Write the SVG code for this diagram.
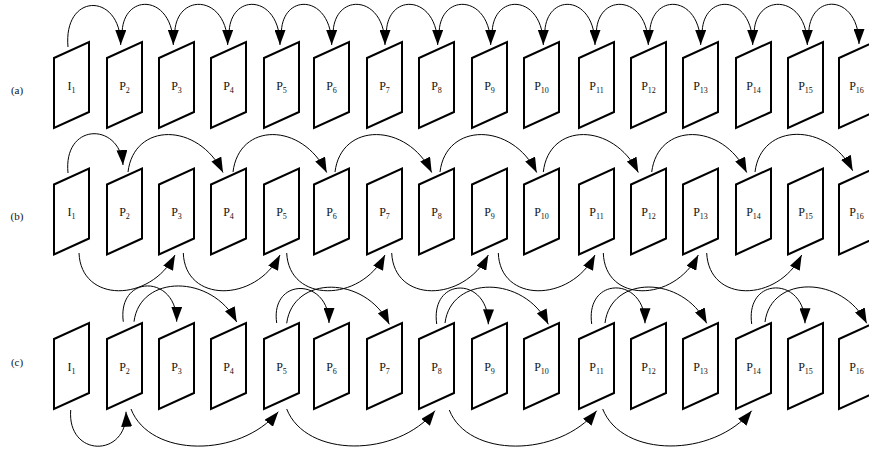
<svg xmlns="http://www.w3.org/2000/svg" width="869" height="452" viewBox="0 0 869 452">
<style>
.fr{fill:#fff;stroke:#000;stroke-width:2;stroke-linejoin:miter}
.lb{font-family:"Liberation Serif","Times New Roman",serif;font-size:12px;fill:#111;text-anchor:middle}
.sb{font-size:8px}
.rl{font-family:"Liberation Serif","Times New Roman",serif;font-size:11px;fill:#111;text-anchor:middle}
.ar{fill:none;stroke:#000;stroke-width:1;marker-end:url(#ah)}
</style>
<defs>
<marker id="ah" viewBox="0 0 15 11" refX="15" refY="5.5" markerWidth="15" markerHeight="11" markerUnits="userSpaceOnUse" orient="auto">
<path d="M0,0 L15,5.5 L0,11 z" fill="#000"/>
</marker>
<polygon id="pg" points="0,-27 35,-43 35,27 0,43"/>
</defs>
<rect width="869" height="452" fill="#fff"/>
<text class="rl" x="17" y="94">(a)</text>
<text class="rl" x="17" y="220">(b)</text>
<text class="rl" x="17" y="366">(c)</text>

<g id="row-a">
<g id="a1"><use href="#pg" class="fr" x="54" y="85"/><text class="lb" x="71.5" y="89.5">I<tspan class="sb" dy="3">1</tspan></text></g>
<g id="a2"><use href="#pg" class="fr" x="107" y="85"/><text class="lb" x="124.5" y="89.5">P<tspan class="sb" dy="3">2</tspan></text></g>
<g id="a3"><use href="#pg" class="fr" x="159" y="85"/><text class="lb" x="176.5" y="89.5">P<tspan class="sb" dy="3">3</tspan></text></g>
<g id="a4"><use href="#pg" class="fr" x="211" y="85"/><text class="lb" x="228.5" y="89.5">P<tspan class="sb" dy="3">4</tspan></text></g>
<g id="a5"><use href="#pg" class="fr" x="264" y="85"/><text class="lb" x="281.5" y="89.5">P<tspan class="sb" dy="3">5</tspan></text></g>
<g id="a6"><use href="#pg" class="fr" x="314" y="85"/><text class="lb" x="331.5" y="89.5">P<tspan class="sb" dy="3">6</tspan></text></g>
<g id="a7"><use href="#pg" class="fr" x="367" y="85"/><text class="lb" x="384.5" y="89.5">P<tspan class="sb" dy="3">7</tspan></text></g>
<g id="a8"><use href="#pg" class="fr" x="419" y="85"/><text class="lb" x="436.5" y="89.5">P<tspan class="sb" dy="3">8</tspan></text></g>
<g id="a9"><use href="#pg" class="fr" x="472" y="85"/><text class="lb" x="489.5" y="89.5">P<tspan class="sb" dy="3">9</tspan></text></g>
<g id="a10"><use href="#pg" class="fr" x="524" y="85"/><text class="lb" x="541.5" y="89.5">P<tspan class="sb" dy="3">10</tspan></text></g>
<g id="a11"><use href="#pg" class="fr" x="579" y="85"/><text class="lb" x="596.5" y="89.5">P<tspan class="sb" dy="3">11</tspan></text></g>
<g id="a12"><use href="#pg" class="fr" x="631" y="85"/><text class="lb" x="648.5" y="89.5">P<tspan class="sb" dy="3">12</tspan></text></g>
<g id="a13"><use href="#pg" class="fr" x="683" y="85"/><text class="lb" x="700.5" y="89.5">P<tspan class="sb" dy="3">13</tspan></text></g>
<g id="a14"><use href="#pg" class="fr" x="736" y="85"/><text class="lb" x="753.5" y="89.5">P<tspan class="sb" dy="3">14</tspan></text></g>
<g id="a15"><use href="#pg" class="fr" x="788" y="85"/><text class="lb" x="805.5" y="89.5">P<tspan class="sb" dy="3">15</tspan></text></g>
<g id="a16"><use href="#pg" class="fr" x="839" y="85"/><text class="lb" x="856.5" y="89.5">P<tspan class="sb" dy="3">16</tspan></text></g>
</g>

<g id="row-b">
<g id="b1"><use href="#pg" class="fr" x="54" y="211.5"/><text class="lb" x="71.5" y="216">I<tspan class="sb" dy="3">1</tspan></text></g>
<g id="b2"><use href="#pg" class="fr" x="107" y="211.5"/><text class="lb" x="124.5" y="216">P<tspan class="sb" dy="3">2</tspan></text></g>
<g id="b3"><use href="#pg" class="fr" x="159" y="211.5"/><text class="lb" x="176.5" y="216">P<tspan class="sb" dy="3">3</tspan></text></g>
<g id="b4"><use href="#pg" class="fr" x="211" y="211.5"/><text class="lb" x="228.5" y="216">P<tspan class="sb" dy="3">4</tspan></text></g>
<g id="b5"><use href="#pg" class="fr" x="264" y="211.5"/><text class="lb" x="281.5" y="216">P<tspan class="sb" dy="3">5</tspan></text></g>
<g id="b6"><use href="#pg" class="fr" x="314" y="211.5"/><text class="lb" x="331.5" y="216">P<tspan class="sb" dy="3">6</tspan></text></g>
<g id="b7"><use href="#pg" class="fr" x="367" y="211.5"/><text class="lb" x="384.5" y="216">P<tspan class="sb" dy="3">7</tspan></text></g>
<g id="b8"><use href="#pg" class="fr" x="419" y="211.5"/><text class="lb" x="436.5" y="216">P<tspan class="sb" dy="3">8</tspan></text></g>
<g id="b9"><use href="#pg" class="fr" x="472" y="211.5"/><text class="lb" x="489.5" y="216">P<tspan class="sb" dy="3">9</tspan></text></g>
<g id="b10"><use href="#pg" class="fr" x="524" y="211.5"/><text class="lb" x="541.5" y="216">P<tspan class="sb" dy="3">10</tspan></text></g>
<g id="b11"><use href="#pg" class="fr" x="579" y="211.5"/><text class="lb" x="596.5" y="216">P<tspan class="sb" dy="3">11</tspan></text></g>
<g id="b12"><use href="#pg" class="fr" x="631" y="211.5"/><text class="lb" x="648.5" y="216">P<tspan class="sb" dy="3">12</tspan></text></g>
<g id="b13"><use href="#pg" class="fr" x="683" y="211.5"/><text class="lb" x="700.5" y="216">P<tspan class="sb" dy="3">13</tspan></text></g>
<g id="b14"><use href="#pg" class="fr" x="736" y="211.5"/><text class="lb" x="753.5" y="216">P<tspan class="sb" dy="3">14</tspan></text></g>
<g id="b15"><use href="#pg" class="fr" x="788" y="211.5"/><text class="lb" x="805.5" y="216">P<tspan class="sb" dy="3">15</tspan></text></g>
<g id="b16"><use href="#pg" class="fr" x="839" y="211.5"/><text class="lb" x="856.5" y="216">P<tspan class="sb" dy="3">16</tspan></text></g>
</g>

<g id="row-c">
<g id="c1"><use href="#pg" class="fr" x="54" y="366"/><text class="lb" x="71.5" y="370.5">I<tspan class="sb" dy="3">1</tspan></text></g>
<g id="c2"><use href="#pg" class="fr" x="107" y="366"/><text class="lb" x="124.5" y="370.5">P<tspan class="sb" dy="3">2</tspan></text></g>
<g id="c3"><use href="#pg" class="fr" x="159" y="366"/><text class="lb" x="176.5" y="370.5">P<tspan class="sb" dy="3">3</tspan></text></g>
<g id="c4"><use href="#pg" class="fr" x="211" y="366"/><text class="lb" x="228.5" y="370.5">P<tspan class="sb" dy="3">4</tspan></text></g>
<g id="c5"><use href="#pg" class="fr" x="264" y="366"/><text class="lb" x="281.5" y="370.5">P<tspan class="sb" dy="3">5</tspan></text></g>
<g id="c6"><use href="#pg" class="fr" x="314" y="366"/><text class="lb" x="331.5" y="370.5">P<tspan class="sb" dy="3">6</tspan></text></g>
<g id="c7"><use href="#pg" class="fr" x="367" y="366"/><text class="lb" x="384.5" y="370.5">P<tspan class="sb" dy="3">7</tspan></text></g>
<g id="c8"><use href="#pg" class="fr" x="419" y="366"/><text class="lb" x="436.5" y="370.5">P<tspan class="sb" dy="3">8</tspan></text></g>
<g id="c9"><use href="#pg" class="fr" x="472" y="366"/><text class="lb" x="489.5" y="370.5">P<tspan class="sb" dy="3">9</tspan></text></g>
<g id="c10"><use href="#pg" class="fr" x="524" y="366"/><text class="lb" x="541.5" y="370.5">P<tspan class="sb" dy="3">10</tspan></text></g>
<g id="c11"><use href="#pg" class="fr" x="579" y="366"/><text class="lb" x="596.5" y="370.5">P<tspan class="sb" dy="3">11</tspan></text></g>
<g id="c12"><use href="#pg" class="fr" x="631" y="366"/><text class="lb" x="648.5" y="370.5">P<tspan class="sb" dy="3">12</tspan></text></g>
<g id="c13"><use href="#pg" class="fr" x="683" y="366"/><text class="lb" x="700.5" y="370.5">P<tspan class="sb" dy="3">13</tspan></text></g>
<g id="c14"><use href="#pg" class="fr" x="736" y="366"/><text class="lb" x="753.5" y="370.5">P<tspan class="sb" dy="3">14</tspan></text></g>
<g id="c15"><use href="#pg" class="fr" x="788" y="366"/><text class="lb" x="805.5" y="370.5">P<tspan class="sb" dy="3">15</tspan></text></g>
<g id="c16"><use href="#pg" class="fr" x="839" y="366"/><text class="lb" x="856.5" y="370.5">P<tspan class="sb" dy="3">16</tspan></text></g>
</g>

<g id="connectors">
<!-- row a -->
<path class="ar" d="M68,47 C63,-8 121,-8 120.7,45"/>
<path class="ar" d="M122.2,38 C119,-8 173.3,-8 173.3,45"/>
<path class="ar" d="M174.8,38 C172,-8 227.7,-8 227.7,45"/>
<path class="ar" d="M229.2,38 C226,-8 280,-8 280,45"/>
<path class="ar" d="M281.5,38 C278,-8 331.7,-8 331.7,45"/>
<path class="ar" d="M333.2,38 C330,-8 385,-8 385,45"/>
<path class="ar" d="M386.5,38 C383,-8 437.7,-8 437.7,45"/>
<path class="ar" d="M439.2,38 C436,-8 490.7,-8 490.7,45"/>
<path class="ar" d="M492.2,38 C489,-8 543.3,-8 543.3,45"/>
<path class="ar" d="M544.8,38 C542,-8 595,-8 595,45"/>
<path class="ar" d="M596.5,38 C593,-8 648.3,-8 648.3,45"/>
<path class="ar" d="M649.8,38 C647,-8 700.7,-8 700.7,45"/>
<path class="ar" d="M702.2,38 C699,-8 752.7,-8 752.7,45"/>
<path class="ar" d="M754.2,38 C751,-8 807.3,-8 807.3,45"/>
<path class="ar" d="M808.8,38 C806,-8 859,-8 859,44"/>
<!-- row b top -->
<path class="ar" d="M68,173 C63,122 120,122 123,165"/>
<path class="ar" d="M128,172 C134,122 198,122 223,172.5"/>
<path class="ar" d="M233,172 C239,122 302,122 326.7,172.5"/>
<path class="ar" d="M335,172 C341,122 407,122 431.7,172.5"/>
<path class="ar" d="M440,172 C446,122 512,122 536.7,172.5"/>
<path class="ar" d="M543.3,172 C549,122 613,122 638.3,172.5"/>
<path class="ar" d="M651.7,172 C658,122 722,122 746.7,172.5"/>
<path class="ar" d="M755,172 C761,122 828,122 852.7,170.7"/>
<!-- row b bottom -->
<path class="ar" d="M79,253 C81,303 150,303 175,255"/>
<path class="ar" d="M183.3,253 C185,303 255,303 280,255"/>
<path class="ar" d="M286.7,253 C289,303 360,303 385,255"/>
<path class="ar" d="M391.7,253 C394,303 463,303 488.3,255"/>
<path class="ar" d="M498.3,253 C500,303 570,303 595,255"/>
<path class="ar" d="M603.3,253 C605,303 673,303 698.3,255"/>
<path class="ar" d="M706.7,253 C709,303 777,303 801.7,255"/>
<!-- row c top -->
<path class="ar" d="M123.3,321.7 C117,274 177,274 176.7,321.7"/>
<path class="ar" d="M134,321.7 C140,274 212,274 236.7,322"/>
<path class="ar" d="M276.7,323 C270,277 329,277 329,323"/>
<path class="ar" d="M286.7,323.3 C293,275 365,275 389.3,324.3"/>
<path class="ar" d="M436.7,324 C430,276 489,276 488.3,324.3"/>
<path class="ar" d="M445,323 C451,275 524,275 548.3,324.3"/>
<path class="ar" d="M591.7,324 C585,276 645,276 645,323.3"/>
<path class="ar" d="M605,323 C611,275 682,275 706.7,323.3"/>
<path class="ar" d="M751.7,324 C745,276 805,276 805,323.3"/>
<path class="ar" d="M765,322 C771,275 842,275 866.7,323.3"/>
<!-- row c bottom -->
<path class="ar" d="M70.7,410 C67,458 128,458 126,411.7"/>
<path class="ar" d="M131,409 C150,458 240,458 278.3,411.7"/>
<path class="ar" d="M286.7,409 C306,458 397,458 435,410.7"/>
<path class="ar" d="M449.3,410 C468,458 558,458 596.7,410.7"/>
<path class="ar" d="M602.7,409 C622,458 713,458 751.7,410.7"/>
</g>
</svg>
